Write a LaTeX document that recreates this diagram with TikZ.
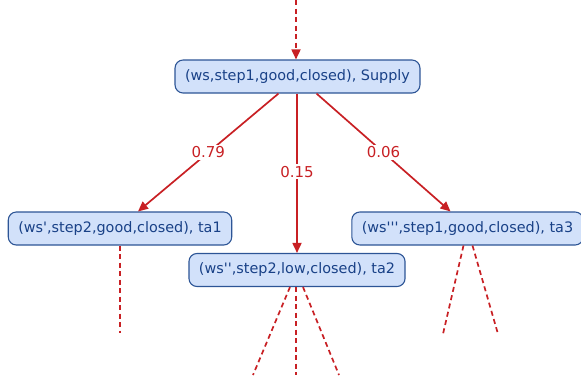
\documentclass[tikz,border=0pt]{standalone}
\usepackage{fontspec}
\setmainfont{DejaVu Sans}
\newfontfamily\labelfont{DejaVu Sans}
\usetikzlibrary{arrows.meta}
\definecolor{statefill}{RGB}{210,225,250}
\definecolor{stateedge}{RGB}{45,85,150}
\definecolor{statetext}{RGB}{25,65,135}
\definecolor{flow}{RGB}{200,32,36}
\tikzset{
  state/.style={draw=stateedge, line width=1.1pt, fill=statefill, text=statetext,
    rounded corners=8pt, minimum height=33pt, inner xsep=10pt, inner ysep=0pt,
    font=\labelfont\fontsize{14.4}{17}\selectfont},
  trans/.style={draw=flow, line width=1.7pt, -{Triangle[length=10pt,width=9pt]}},
  cont/.style={draw=flow, line width=1.7pt, dash pattern=on 5pt off 3.5pt},
  prob/.style={fill=white, text=flow, inner sep=2pt, font=\labelfont\fontsize{15}{17}\selectfont},
}
\begin{document}
\begin{tikzpicture}[x=1pt,y=-1pt]
\useasboundingbox (0,0) rectangle (581,375);

\node[state] (s0) at (297.5,76.5) {(ws,step1,good,closed), Supply};
\node[state] (s1) at (120,228.5) {(ws',step2,good,closed), ta1};
\node[state] (s2) at (297,270) {(ws'',step2,low,closed), ta2};
\node[state] (s3) at (467.5,228.5) {(ws''',step1,good,closed), ta3};

% incoming path from above
\coordinate (in) at (296,0);
\draw[cont, -{Triangle[length=10pt,width=9pt]}] (in) -- (s0.north -| in);

% probabilistic branches
\draw[trans] ([xshift=-19pt]s0.south) -- node[prob] {0.79} ([xshift=18pt]s1.north);
\draw[trans] (s0.south -| s2.north) -- node[prob, pos=0.49] {0.15} (s2.north);
\draw[trans] ([xshift=19pt]s0.south) -- node[prob] {0.06} ([xshift=-17pt]s3.north);

% continuations below
\coordinate (e1) at (120,333);
\draw[cont] (s1.south) -- (e1);

\coordinate (e2a) at (253,375);
\coordinate (e2b) at (296,375);
\coordinate (e2c) at (339,375);
\draw[cont] ([xshift=-7pt]s2.south) -- (e2a);
\draw[cont] ([xshift=-1pt]s2.south) -- (e2b);
\draw[cont] ([xshift=6pt]s2.south) -- (e2c);

\coordinate (e3a) at (443,334);
\coordinate (e3b) at (498,334);
\draw[cont] ([xshift=-4pt]s3.south) -- (e3a);
\draw[cont] ([xshift=5pt]s3.south) -- (e3b);
\end{tikzpicture}
\end{document}
